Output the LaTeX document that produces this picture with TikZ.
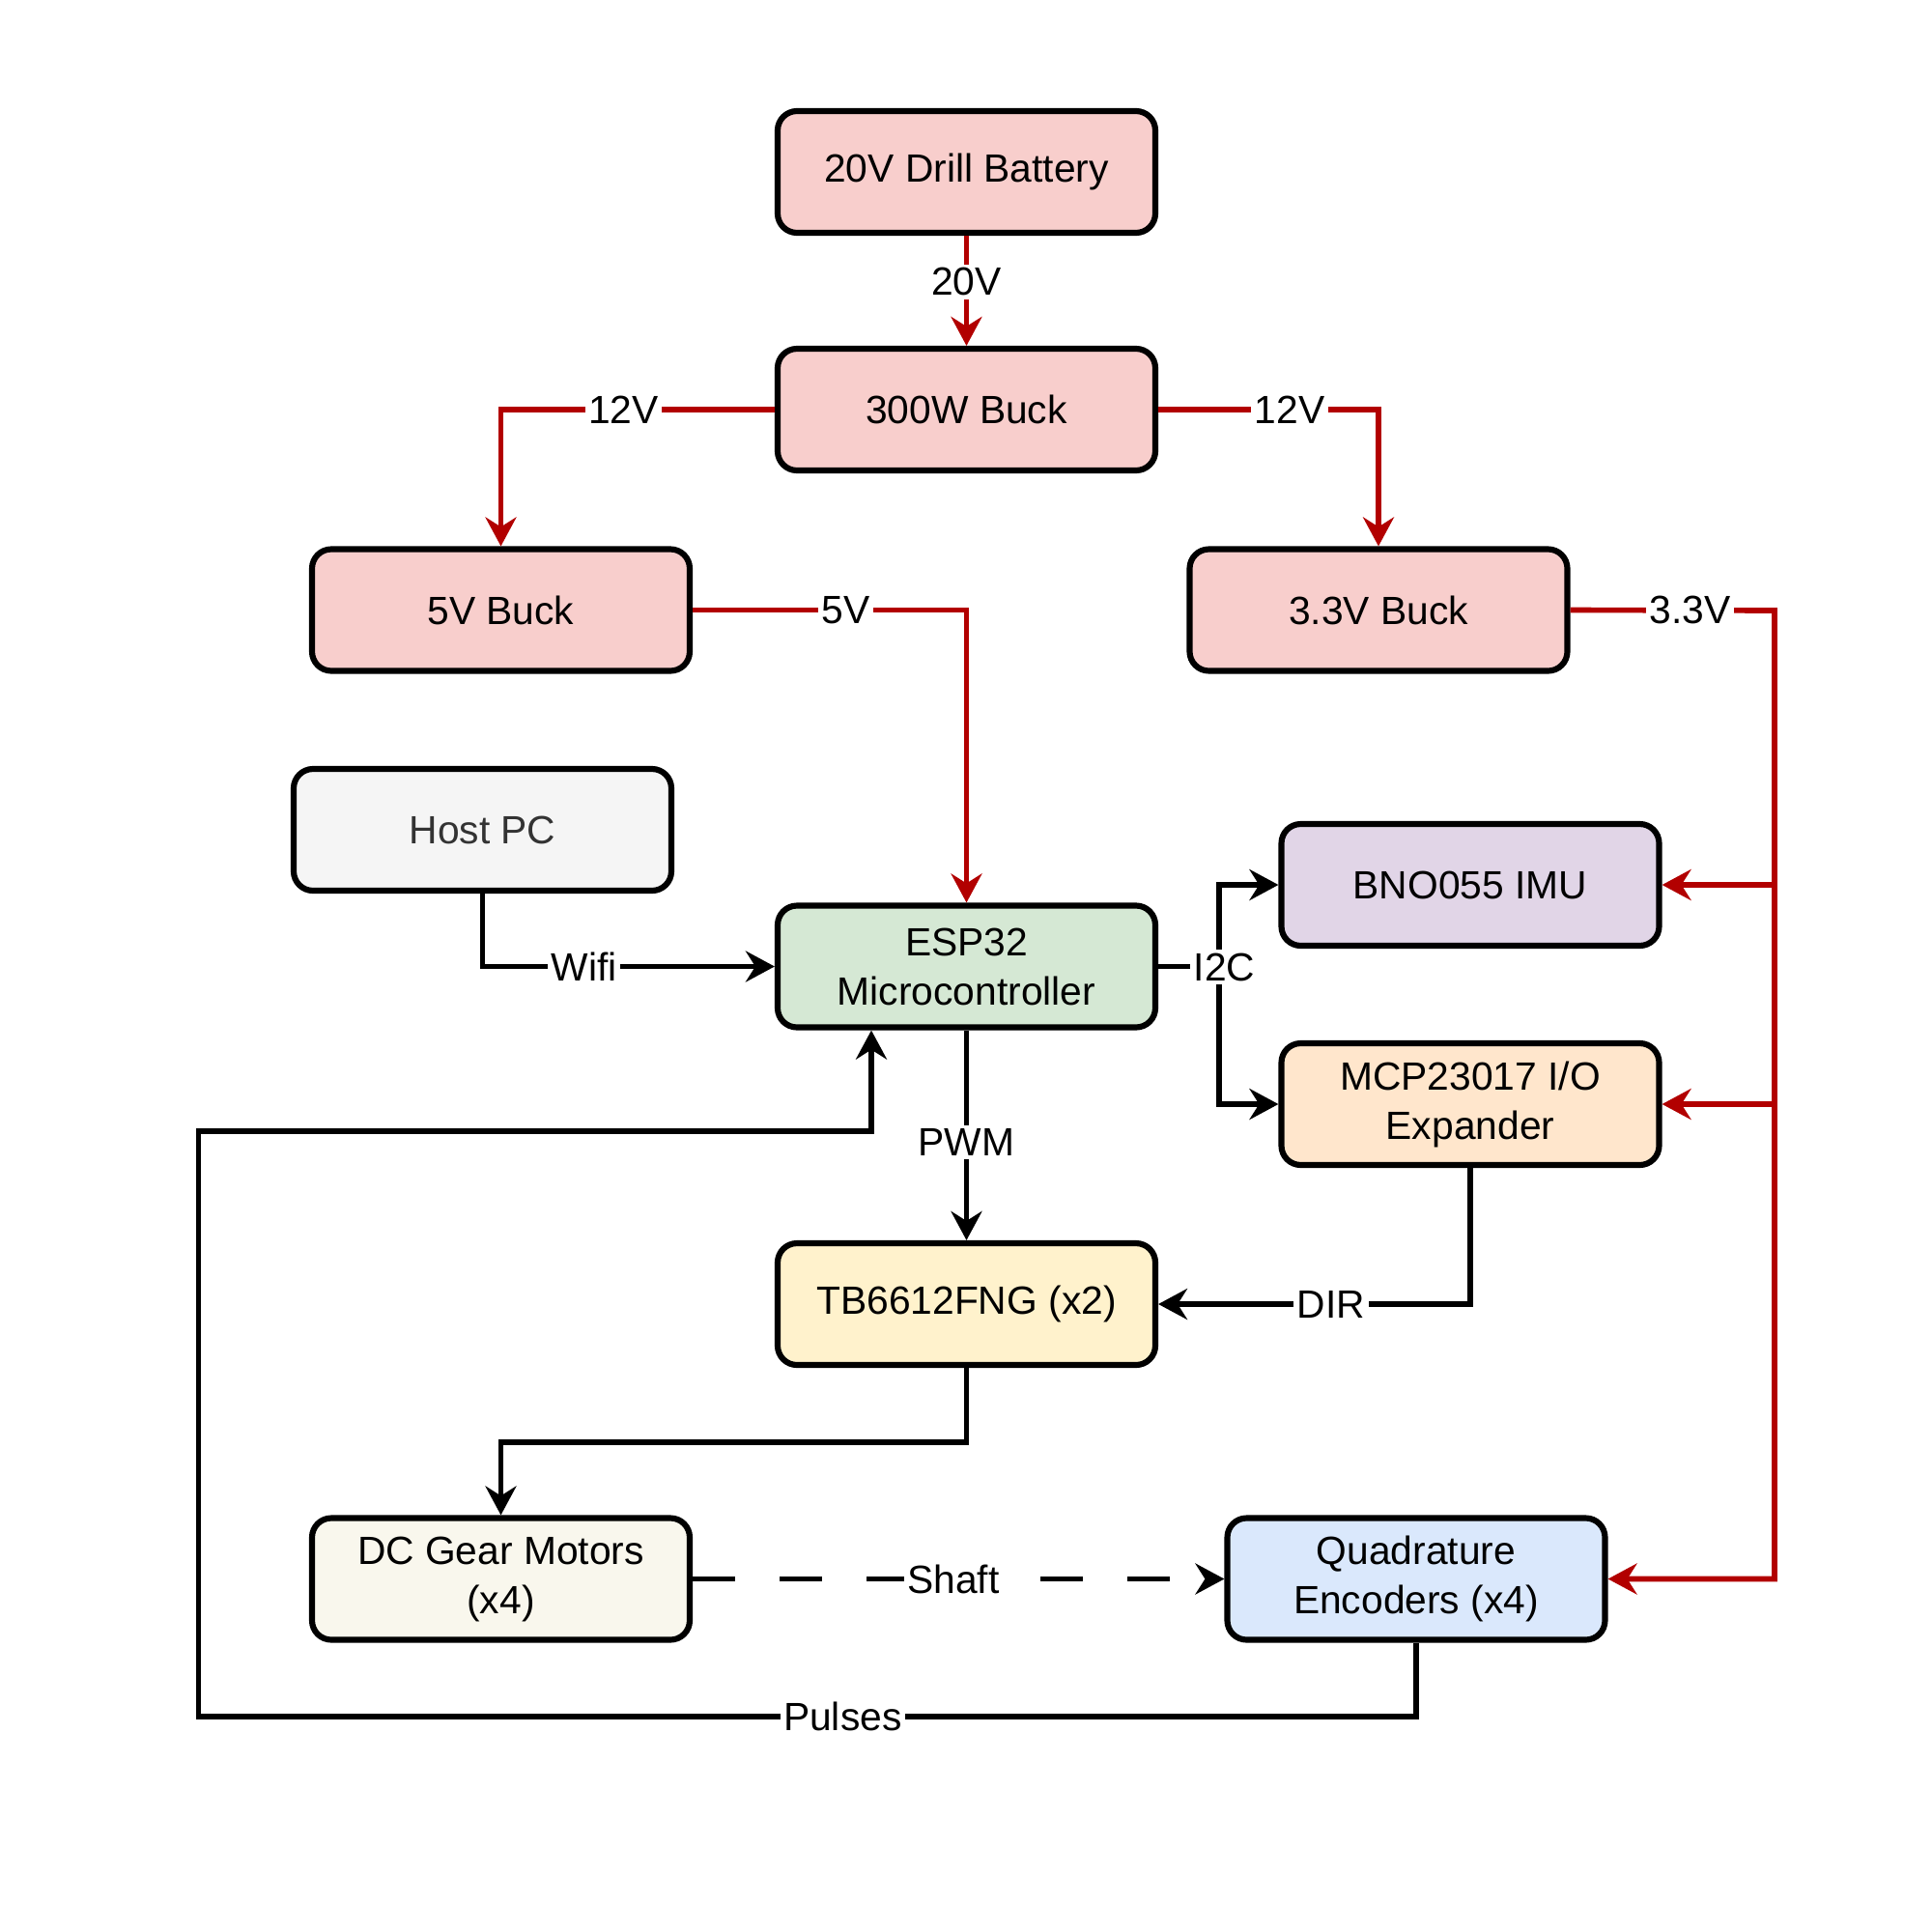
\documentclass[tikz,border=0pt]{standalone}
\usepackage{fontspec}
\setmainfont{Liberation Sans}
\usetikzlibrary{arrows.meta}
\definecolor{pwr}{HTML}{B20000}
\definecolor{fpink}{HTML}{F8CECC}
\definecolor{fgreen}{HTML}{D5E8D4}
\definecolor{fpurple}{HTML}{E1D5E7}
\definecolor{forange}{HTML}{FFE6CC}
\definecolor{fyellow}{HTML}{FFF2CC}
\definecolor{fbeige}{HTML}{F9F7ED}
\definecolor{fblue}{HTML}{DAE8FC}
\definecolor{fgrey}{HTML}{F5F5F5}
\definecolor{tgrey}{HTML}{333333}
\begin{document}
\begin{tikzpicture}[
  box/.style={draw=black, line width=1.75pt, rounded corners=0.2cm,
    minimum width=3.91cm, minimum height=1.26cm, align=center,
    font=\fontsize{11.6}{14.5}\selectfont, inner sep=0pt},
  conn/.style={line width=1.6pt, -{Stealth[length=0.3cm,width=0.32cm,inset=0.1cm]}},
  plain/.style={line width=1.6pt},
  pwrline/.style={draw=pwr},
  lbl/.style={fill=white, inner sep=1pt, font=\fontsize{11.6}{14.5}\selectfont, text=black}
]
\useasboundingbox (0,0) rectangle (20,-20);

% nodes
\node[box, fill=fpink] (bat) at (10.005,-1.78) {20V Drill Battery};
\node[box, fill=fpink] (buck300) at (10.005,-4.24) {300W Buck};
\node[box, fill=fpink] (buck5) at (5.185,-6.315) {5V Buck};
\node[box, fill=fpink] (buck33) at (14.27,-6.315) {3.3V Buck};
\node[box, fill=fgrey, text=tgrey] (host) at (4.995,-8.59) {Host PC};
\node[box, fill=fgreen] (esp) at (10.005,-10.005) {ESP32\\Microcontroller};
\node[box, fill=fpurple] (bno) at (15.22,-9.16) {BNO055 IMU};
\node[box, fill=forange] (mcp) at (15.22,-11.43) {MCP23017 I/O\\Expander};
\node[box, fill=fyellow] (tb) at (10.005,-13.5) {TB6612FNG (x2)};
\node[box, fill=fbeige] (dc) at (5.185,-16.345) {DC Gear Motors\\(x4)};
\node[box, fill=fblue] (qe) at (14.66,-16.345) {Quadrature\\Encoders (x4)};

% helper coordinates
\coordinate (rail) at (18.37,-6.32);
\coordinate (i2c) at (12.62,-10.005);
\coordinate (tbm) at (10.005,-14.93);
\coordinate (p1) at (14.66,-17.77);
\coordinate (p2) at (2.055,-17.77);
\coordinate (p3) at (2.055,-11.71);
\coordinate (p4) at (9.02,-11.71);

% power connectors
\draw[conn, pwrline] (bat.south) -- node[lbl, pos=0.42] {20V} (buck300.north);
\draw[conn, pwrline] (buck300.west) -| node[lbl, pos=0.276] {12V} (buck5.north);
\draw[conn, pwrline] (buck300.east) -| node[lbl, pos=0.298] {12V} (buck33.north);
\draw[conn, pwrline] (buck5.east) -| node[lbl, pos=0.28] {5V} (esp.north);
\draw[conn, pwrline] (buck33.east) -- node[lbl, pos=0.588] {3.3V} (rail) |- (qe.east);
\draw[conn, pwrline] (rail |- bno.east) -- (bno.east);
\draw[conn, pwrline] (rail |- mcp.east) -- (mcp.east);

% signal connectors
\draw[conn] (host.south) |- node[lbl, pos=0.674] {Wifi} (esp.west);
\draw[plain] (esp.east) -- (i2c);
\draw[conn] (i2c) |- (bno.west);
\draw[conn] (i2c) |- (mcp.west);
\node[lbl] (i2clbl) at (12.675,-10.01) {I2C};
\draw[conn] (esp.south) -- node[lbl, pos=0.535] {PWM} (tb.north);
\draw[conn] (mcp.south) |- node[lbl, pos=0.723] {DIR} (tb.east);
\draw[conn] (tb.south) -- (tbm) -| (dc.north);
\draw[conn, dash pattern=on 0.44cm off 0.46cm] (dc.east) -- node[lbl, pos=0.49] {Shaft} (qe.west);
\draw[conn] (qe.south) -- (p1) -- node[lbl, pos=0.471] {Pulses} (p2) -- (p3) -- (p4) -- (p4 |- esp.south);
\end{tikzpicture}
\end{document}
